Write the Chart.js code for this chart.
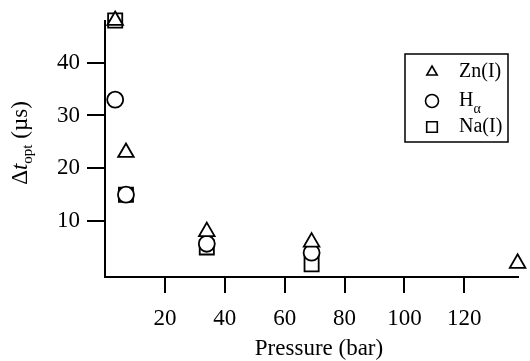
<!DOCTYPE html>
<html>
<head>
<meta charset="utf-8">
<script src="https://cdn.jsdelivr.net/npm/chart.js@4/dist/chart.umd.min.js"></script>
<style>
  html, body { margin: 0; padding: 0; background: #fff; }
  .chart-wrap { position: relative; width: 530px; height: 361px; }
</style>
</head>
<body>
<div class="chart-wrap"><canvas id="dtChart" width="530" height="361"></canvas></div>
<script>
// values
const znPressure = [3.4, 7, 34, 69, 137.8];
const znDt = [48, 23, 8, 6, 2];
const hPressure = [3.4, 7, 34, 69];
const hDt = [33, 15, 5.7, 4];
const naPressure = [3.4, 7, 34, 69];
const naDt = [48, 15, 5, 1.8];

const xTicks = [20, 40, 60, 80, 100, 120];
const yTicks = [10, 20, 30, 40];

const SERIF = '"Liberation Serif", "Times New Roman", serif';

function toPoints(xs, ys) {
  return xs.map((x, i) => ({ x, y: ys[i] }));
}

const SERIES = [
  { label: 'Zn(I)', main: 'Zn(I)', sub: '', style: 'triangle', radius: 9, legendRadius: 6, xs: znPressure, ys: znDt },
  { label: 'Hα', main: 'H', sub: 'α', style: 'circle', radius: 8, legendRadius: 6.5, xs: hPressure, ys: hDt },
  { label: 'Na(I)', main: 'Na(I)', sub: '', style: 'rect', radius: 10, legendRadius: 7.5, xs: naPressure, ys: naDt },
];

const boxLegend = {
  id: 'boxLegend',
  afterDraw(chart) {
    const ctx = chart.ctx;
    ctx.save();
    ctx.strokeStyle = '#000';
    ctx.lineWidth = 1.5;
    ctx.strokeRect(405, 54, 103, 88);
    const rows = [72, 101, 127];
    SERIES.forEach((s, i) => {
      const y = rows[i];
      ctx.fillStyle = '#fff';
      ctx.strokeStyle = '#000';
      ctx.lineWidth = 1.6;
      Chart.helpers.drawPoint(ctx, { pointStyle: s.style, radius: s.legendRadius, borderWidth: 1.6, rotation: 0 }, 432, y);
      ctx.fillStyle = '#000';
      ctx.font = `20px ${SERIF}`;
      ctx.textBaseline = 'middle';
      ctx.textAlign = 'left';
      ctx.fillText(s.main, 459, y);
      if (s.sub) {
        const w = ctx.measureText(s.main).width;
        ctx.font = `14px ${SERIF}`;
        ctx.fillText(s.sub, 459 + w, y + 8);
      }
    });
    ctx.restore();
  },
};

const axisTitles = {
  id: 'axisTitles',
  afterDraw(chart) {
    const ctx = chart.ctx;
    ctx.save();
    ctx.fillStyle = '#000';
    ctx.textBaseline = 'middle';
    ctx.textAlign = 'center';
    ctx.font = `23px ${SERIF}`;
    ctx.fillText('Pressure (bar)', 319, 349);

    // y title: Δt_opt (µs)
    const parts = [
      { t: 'Δ', font: `23px ${SERIF}`, dy: 0 },
      { t: 't', font: `italic 23px ${SERIF}`, dy: 0 },
      { t: 'opt', font: `15px ${SERIF}`, dy: 7 },
      { t: ' (µs)', font: `23px ${SERIF}`, dy: 0 },
    ];
    let total = 0;
    parts.forEach((p) => {
      ctx.font = p.font;
      p.w = ctx.measureText(p.t).width;
      total += p.w;
    });
    ctx.translate(21, 143);
    ctx.rotate(-Math.PI / 2);
    ctx.textAlign = 'left';
    let x = -total / 2;
    parts.forEach((p) => {
      ctx.font = p.font;
      ctx.fillText(p.t, x, p.dy);
      x += p.w;
    });
    ctx.restore();
  },
};

const datasets = SERIES.map((s) => ({
  label: s.label,
  data: toPoints(s.xs, s.ys),
  showLine: false,
  pointStyle: s.style,
  pointRadius: s.radius,
  pointHoverRadius: s.radius,
  pointBorderWidth: 1.8,
  pointBorderColor: '#000',
  pointBackgroundColor: '#fff',
  clip: false,
}));

new Chart(document.getElementById('dtChart'), {
  type: 'scatter',
  data: { datasets },
  options: {
    responsive: false,
    animation: false,
    devicePixelRatio: 1,
    layout: { padding: { top: 21, right: 9, left: 0, bottom: 0 } },
    plugins: {
      legend: { display: false },
      tooltip: { enabled: false },
    },
    scales: {
      x: {
        type: 'linear',
        min: 0,
        max: 138,
        afterBuildTicks(scale) {
          scale.ticks = xTicks.map((v) => ({ value: v }));
        },
        afterFit(scale) {
          scale.height = 84;
        },
        border: { display: true, color: '#000', width: 2 },
        grid: { drawOnChartArea: false, drawTicks: true, tickLength: 16, color: '#000', lineWidth: 2 },
        ticks: { color: '#000', padding: 12, autoSkip: false, font: { family: SERIF, size: 23 }, maxRotation: 0 },
      },
      y: {
        type: 'linear',
        min: -0.6,
        max: 47.9,
        afterBuildTicks(scale) {
          scale.ticks = yTicks.map((v) => ({ value: v }));
        },
        afterFit(scale) {
          scale.width = 105;
        },
        border: { display: true, color: '#000', width: 2 },
        grid: { drawOnChartArea: false, drawTicks: true, tickLength: 18, color: '#000', lineWidth: 2 },
        ticks: { color: '#000', padding: 7, autoSkip: false, font: { family: SERIF, size: 23 } },
      },
    },
  },
  plugins: [boxLegend, axisTitles],
});
</script>
</body>
</html>
